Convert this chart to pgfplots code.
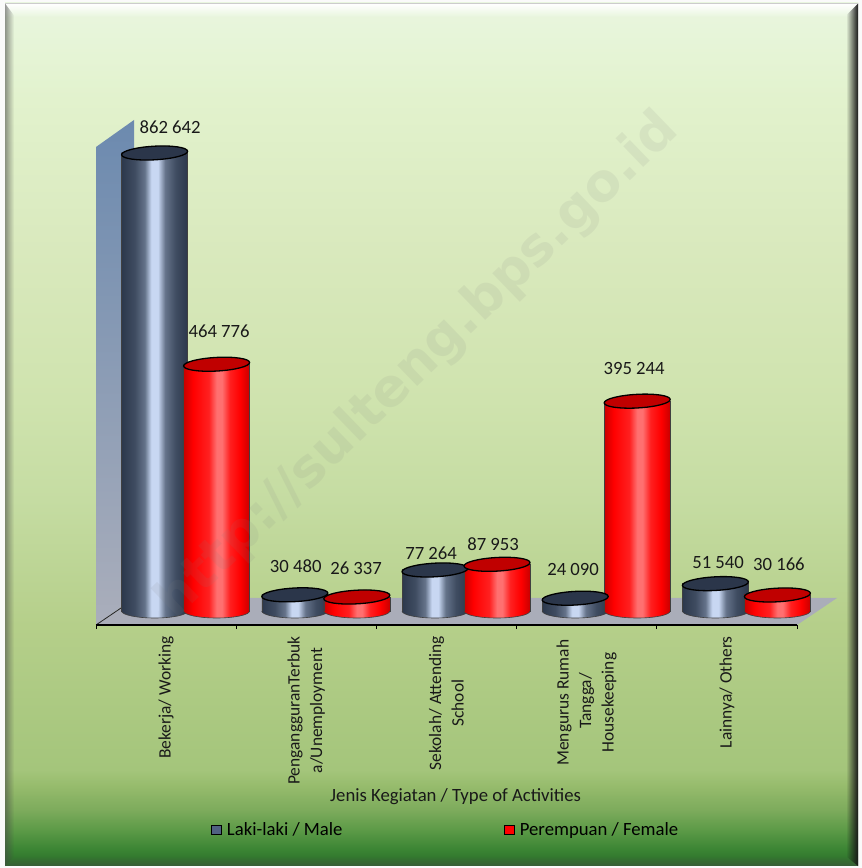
\documentclass[border=0pt]{standalone}
\usepackage{fontspec}
\setmainfont{Carlito}
\newfontfamily\wmfont{DejaVu Sans}
\usepackage{pgfplots}
\usepackage{pgfplotstable}
\pgfplotsset{compat=1.18}
\usetikzlibrary{fadings}
\newcommand\cf{\fontsize{18.7}{22.5}\selectfont}
\newcommand\cft{\fontsize{17.4}{22.5}\selectfont}

\definecolor{b00}{HTML}{E9F6DF}\definecolor{b01}{HTML}{E2F2CD}\definecolor{b02}{HTML}{D9E9BD}
\definecolor{b03}{HTML}{CFE3AE}\definecolor{b04}{HTML}{C5DCA2}\definecolor{b05}{HTML}{B5CF8A}
\definecolor{b06}{HTML}{A4C57B}\definecolor{b07}{HTML}{97BC6D}\definecolor{b08}{HTML}{7DAB5C}
\definecolor{b09}{HTML}{5C9A47}\definecolor{b10}{HTML}{3A8433}\definecolor{b11}{HTML}{2A6A28}
\pgfdeclareverticalshading{bgsh}{100bp}{color(0bp)=(b11);color(25bp)=(b11);color(25.93bp)=(b10);
 color(27.09bp)=(b09);color(28.25bp)=(b08);color(29.7bp)=(b07);color(30.57bp)=(b06);color(38.96bp)=(b05);
 color(46.2bp)=(b04);color(52bp)=(b03);color(60.7bp)=(b02);color(69.4bp)=(b01);color(75bp)=(b00);color(100bp)=(b00)}

\definecolor{mA}{HTML}{2C384C}\definecolor{mB}{HTML}{3F4C61}\definecolor{mD}{HTML}{65738A}\definecolor{mC}{HTML}{C8D7F2}
\definecolor{rA}{HTML}{C80000}\definecolor{rB}{HTML}{FF0000}\definecolor{rD}{HTML}{FF2020}\definecolor{rC}{HTML}{FF7070}
\pgfdeclarehorizontalshading{cylm}{100bp}{color(0bp)=(mA);color(25bp)=(mA);color(35bp)=(mB);color(42.5bp)=(mD);
 color(47.5bp)=(mC);color(52.5bp)=(mC);color(58bp)=(mD);color(66bp)=(mB);color(75bp)=(mA);color(100bp)=(mA)}
\pgfdeclarehorizontalshading{cylr}{100bp}{color(0bp)=(rA);color(25bp)=(rA);color(32bp)=(rB);color(44bp)=(rD);
 color(50bp)=(rC);color(54bp)=(rC);color(60bp)=(rD);color(68bp)=(rB);color(75bp)=(rA);color(100bp)=(rA)}

\newcommand\botcyl[1]{%
 \begin{pgfscope}%
 \pgfpathrectangle{\pgfpoint{-34pt}{-9pt}}{\pgfpoint{68pt}{9pt}}\pgfusepath{clip}%
 \begin{pgfscope}\pgfpathellipse{\pgfpointorigin}{\pgfpoint{33pt}{0pt}}{\pgfpoint{0pt}{7pt}}\pgfshadepath{#1}{0}\pgfusepath{discard}\end{pgfscope}%
 \pgfsetstrokecolor{black!75}\pgfsetlinewidth{0.6pt}\pgfpathellipse{\pgfpointorigin}{\pgfpoint{33pt}{0pt}}{\pgfpoint{0pt}{7pt}}\pgfusepathqstroke
 \end{pgfscope}}
\pgfdeclareplotmark{botm}{\botcyl{cylm}}
\pgfdeclareplotmark{botr}{\botcyl{cylr}}
\definecolor{topm}{HTML}{2B364A}\definecolor{topr}{HTML}{C00000}
\pgfdeclareplotmark{topm}{%
 \pgfsetstrokecolor{black}\pgfsetfillcolor{topm}\pgfsetlinewidth{1.3pt}%
 \pgfpathellipse{\pgfpointorigin}{\pgfpoint{33pt}{1.8pt}}{\pgfpoint{-0.4pt}{6.8pt}}\pgfusepathqfillstroke}
\pgfdeclareplotmark{topr}{%
 \pgfsetstrokecolor{black}\pgfsetfillcolor{topr}\pgfsetlinewidth{1.3pt}%
 \pgfpathellipse{\pgfpointorigin}{\pgfpoint{33pt}{1.8pt}}{\pgfpoint{-0.4pt}{6.8pt}}\pgfusepathqfillstroke}

\pgfplotstableread{
x y dx dy
0 862642 15.5 26
1 30480 1 28.8
2 77264 -3.9 17
3 24090 -2.1 29
4 51540 2.7 21.6
}\male
\pgfplotstableread{
x y dx dy
0 464776 2.5 33
1 26337 -0.7 29
2 87953 -3.9 20
3 395244 -3.1 33
4 30166 1.5 31
}\female

\pgfplotsset{
  mbar/.style={ybar,bar width=66pt,bar shift=-11.5pt,shade,shading=cylm,draw=black!75,line width=0.6pt,forget plot},
  rbar/.style={ybar,bar width=66pt,bar shift=50.5pt,shade,shading=cylr,draw=black!75,line width=0.6pt,forget plot},
  lab/.style={visualization depends on={\thisrow{dx}\as\dx},
    visualization depends on={\thisrow{dy}\as\dy},
    nodes near coords,point meta=y,
    nodes near coords style={font=\cf,anchor=center,text=black!90,xshift=\dx pt,yshift=\dy pt,inner sep=0pt}},
}

\begin{document}
\begin{tikzpicture}[x=1pt,y=1pt]
\useasboundingbox (0,0) rectangle (862,868);
\fill[white!96!gray] (0,0) rectangle (862,868);
\shade[shading=bgsh] (5,2) rectangle (858,865);
% bevels
\fill[white,path fading=south] (5,851) rectangle (858,864);
\fill[black!45!gray,opacity=.55,path fading=east] (5,2) -- (14,12) -- (14,853) -- (5,865) -- cycle;
\fill[black!80!gray,path fading=west] (858,2) -- (846,12) -- (846,853) -- (858,865) -- cycle;
\fill[black!70,opacity=.4,path fading=north] (5,2) -- (858,2) -- (846,12) -- (14,12) -- cycle;
\fill[black!20] (5,864) rectangle (858,865);
% wall and floor
\shade[top color={rgb,255:red,108;green,138;blue,175},bottom color={rgb,255:red,170;green,174;blue,187}]
  (96,721) -- (134,748) -- (134,270) -- (96,243) -- cycle;
\fill[fill={rgb,255:red,170;green,173;blue,185}] (96,243) -- (134,270) -- (837,270) -- (797,243) -- cycle;
\draw[black!85,line width=0.8pt] (96,243) -- (124,262);

\begin{axis}[
  at={(96pt,243pt)},anchor=south west,
  width=701pt,height=505pt,scale only axis,
  xmin=-0.5,xmax=4.5,ymin=-26369,ymax=924792,
  clip=false,
  axis x line*=bottom,
  axis line style={-,black,line width=1.3pt},
  hide y axis,
  xtick={0,1,2,3,4},
  xticklabels={{Bekerja/ Working},{PengangguranTerbuk\\a/Unemployment},{Sekolah/ Attending\\School},{Mengurus Rumah\hspace*{3.5pt}\\Tangga/\hspace*{3.5pt}\\Housekeeping\hspace*{3.5pt}},{Lainnya/ Others}},
  minor xtick={-0.5,0.5,1.5,2.5,3.5,4.5},
  tick align=outside,
  major tick length=0pt,
  minor tick length=4pt,
  minor tick style={black,line width=0.8pt},
  tick pos=bottom,
  xticklabel style={font=\cft,rotate=90,anchor=east,align=center,inner sep=0pt,xshift=-11pt,text=black!90},
  xlabel={Jenis Kegiatan / Type of Activities},
  xlabel style={font=\cf,at={(axis description cs:0.513,-0.339)},anchor=center,text=black!90},
  /pgf/number format/.cd,fixed,precision=0,1000 sep={\ },assume math mode=true,/pgfplots/.cd,
  legend columns=2,
  legend cell align=left,
  legend style={at={(axis description cs:0.164,-0.406)},anchor=west,draw=none,fill=none,font=\cf,inner sep=0pt,
    /tikz/every even column/.append style={column sep=159.5pt}},
]
\addlegendimage{legend image code/.code={\draw[black,line width=1.3pt,fill={rgb,255:red,80;green,97;blue,130}] (0pt,-4.5pt) rectangle (10pt,4.5pt);}}
\addlegendentry{\hspace*{2.5pt}Laki-laki / Male}
\addlegendimage{legend image code/.code={\draw[black,line width=1.3pt,fill=red] (0pt,-4.5pt) rectangle (10pt,4.5pt);}}
\addlegendentry{\hspace*{2.5pt}Perempuan / Female}

% male
\addplot[only marks,mark=botm,mark options={xshift=-11.5pt},forget plot] coordinates {(0,0)(1,0)(2,0)(3,0)(4,0)};
\addplot[mbar] coordinates {(0,862642)};
\addplot[mbar] coordinates {(1,30480)};
\addplot[mbar] coordinates {(2,77264)};
\addplot[mbar] coordinates {(3,24090)};
\addplot[mbar] coordinates {(4,51540)};
\addplot[only marks,mark=topm,mark options={xshift=-11.5pt},forget plot,lab] table[x=x,y=y] {\male};
% female
\addplot[only marks,mark=botr,mark options={xshift=50.5pt},forget plot] coordinates {(0,0)(1,0)(2,0)(3,0)(4,0)};
\addplot[rbar] coordinates {(0,464776)};
\addplot[rbar] coordinates {(1,26337)};
\addplot[rbar] coordinates {(2,87953)};
\addplot[rbar] coordinates {(3,395244)};
\addplot[rbar] coordinates {(4,30166)};
\addplot[only marks,mark=topr,mark options={xshift=50.5pt},forget plot,lab] table[x=x,y=y] {\female};
\end{axis}

% watermark
\node[rotate=44,font={\wmfont\bfseries\fontsize{52.5}{52.5}\selectfont},text=black!50,opacity=.11,inner sep=0pt] at (418,502) {http://sulteng.bps.go.id};
\end{tikzpicture}
\end{document}
